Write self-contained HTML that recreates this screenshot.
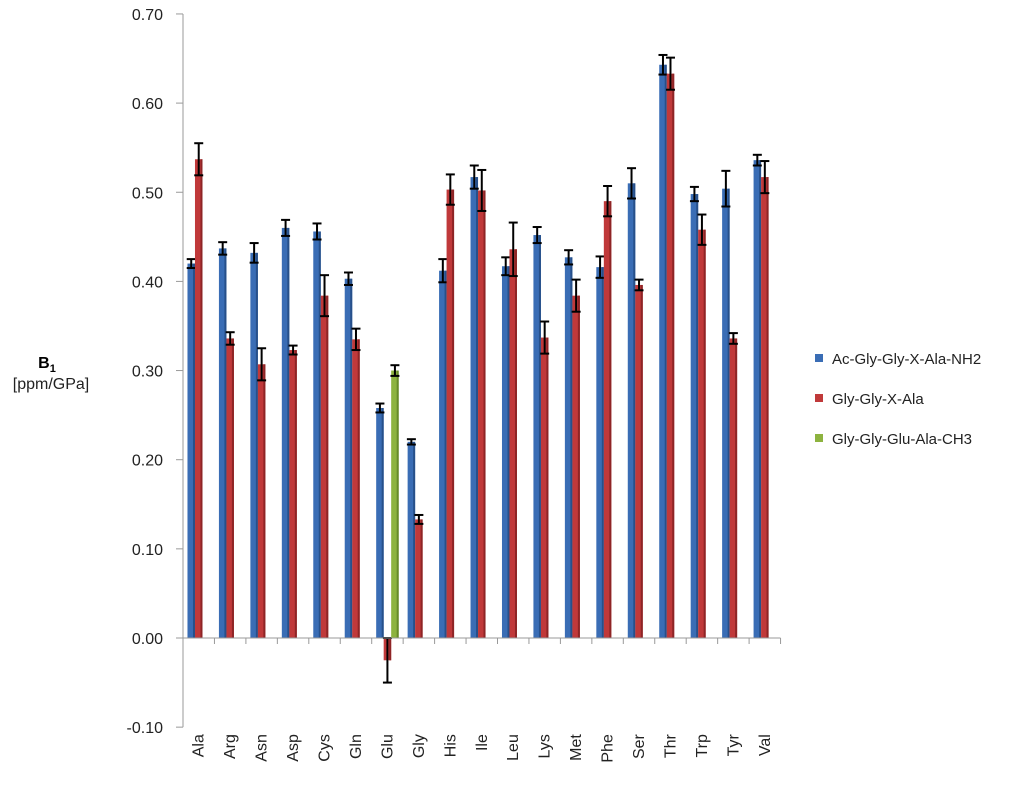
<!DOCTYPE html>
<html><head><meta charset="utf-8"><style>
html,body{margin:0;padding:0;background:#fff;width:1024px;height:790px;overflow:hidden}
svg{font-family:"Liberation Sans",sans-serif}
</style></head><body>
<svg id="chart" width="1024" height="790">
<g id="grid"></g>
<g id="bars"></g>
<g id="axes"></g>
<g>
<text x="47" y="368" font-size="16" font-weight="bold" text-anchor="middle">B<tspan font-size="11" dy="4">1</tspan></text>
<text x="51" y="389" font-size="16" text-anchor="middle" fill="#222">[ppm/GPa]</text>
</g>
<g>
<g><rect x="815" y="354" width="8" height="8" fill="#3a6db5"/><text x="832" y="364" font-size="15" fill="#222">Ac-Gly-Gly-X-Ala-NH2</text></g>
<g><rect x="815" y="394" width="8" height="8" fill="#c0393a"/><text x="832" y="404" font-size="15" fill="#222">Gly-Gly-X-Ala</text></g>
<g><rect x="815" y="434" width="8" height="8" fill="#8db33f"/><text x="832" y="444" font-size="15" fill="#222">Gly-Gly-Glu-Ala-CH3</text></g>
</g>
</svg>
<script>
const categories=["Ala","Arg","Asn","Asp","Cys","Gln","Glu","Gly","His","Ile","Leu","Lys","Met","Phe","Ser","Thr","Trp","Tyr","Val"];
const seriesA=[0.420,0.437,0.432,0.460,0.456,0.403,0.258,0.220,0.412,0.517,0.417,0.452,0.427,0.416,0.510,0.643,0.498,0.504,0.536];
const errA=[0.005,0.007,0.011,0.009,0.009,0.007,0.005,0.003,0.013,0.013,0.010,0.009,0.008,0.012,0.017,0.011,0.008,0.020,0.006];
const seriesB=[0.537,0.336,0.307,0.323,0.384,0.335,-0.025,0.133,0.503,0.502,0.436,0.337,0.384,0.490,0.396,0.633,0.458,0.336,0.517];
const errB=[0.018,0.007,0.018,0.005,0.023,0.012,0.025,0.005,0.017,0.023,0.030,0.018,0.018,0.017,0.006,0.018,0.017,0.006,0.018];
const seriesC=[null,null,null,null,null,null,0.300,null,null,null,null,null,null,null,null,null,null,null,null];
const errC=[0,0,0,0,0,0,0.006,0,0,0,0,0,0,0,0,0,0,0,0];
const yTicks=[-0.10,0.00,0.10,0.20,0.30,0.40,0.50,0.60,0.70];
const NS="http://www.w3.org/2000/svg";
const x0=183,cw=31.45,bw=7.5;
function y(v){return 638-(v/0.1)*89.15;}
function xc(i){return x0+cw*(i+0.5);}
function mk(tag,attrs,parent){const e=document.createElementNS(NS,tag);for(const k in attrs)e.setAttribute(k,attrs[k]);parent.appendChild(e);return e;}
const axes=document.getElementById('axes'),bars=document.getElementById('bars');
const yl=mk('line',{x1:x0,y1:y(0.70),x2:x0,y2:y(-0.10),stroke:'#999','stroke-width':1},axes);


yTicks.forEach(t=>{
  const tk=mk('line',{x1:x0-7,y1:y(t),x2:x0,y2:y(t),stroke:'#999'},axes);
  
  
  const tx=mk('text',{x:x0-20,y:y(t)+6,'font-size':16,'text-anchor':'end',fill:'#222'},axes);
  tx.textContent=t.toFixed(2);
  
  
});
const xl=mk('line',{x1:x0,y1:y(0),x2:x0+cw*categories.length,y2:y(0),stroke:'#999'},axes);


categories.forEach((c,i)=>{
  const tk=mk('line',{x1:x0+cw*(i+1),y1:y(0),x2:x0+cw*(i+1),y2:y(0)+6,stroke:'#999'},axes);
  
  
  const cx=xc(i);
  const tx=mk('text',{x:0,y:0,'font-size':16,'text-anchor':'end',fill:'#222',transform:`translate(${cx+5},${y(-0.10)+7}) rotate(-90)`},axes);
  tx.textContent=c;
  
  
});
const series=[{v:seriesA,e:errA,col:'#3a6db5',dk:'#27508a',n:'a'},{v:seriesB,e:errB,col:'#c0393a',dk:'#8e2526',n:'b'},{v:seriesC,e:errC,col:'#8db33f',dk:'#668a28',n:'c'}];
series.forEach((s,si)=>{
  s.v.forEach((v,i)=>{
    if(v===null)return;
    const bx=xc(i)-1.5*bw+si*bw;
    const top=Math.min(y(v),y(0)),h=Math.abs(y(v)-y(0));
    const r=mk('rect',{x:bx,y:top,width:bw,height:h,fill:s.col},bars);
    
    
    mk('rect',{x:bx+bw-2,y:top,width:2,height:h,fill:s.dk},bars);
    const ex=bx+bw/2,e=s.e[i];
    const g=mk('g',{stroke:'#000','stroke-width':2},bars);
    
    
    mk('line',{x1:ex,y1:y(v+e),x2:ex,y2:y(v-e)},g);
    mk('line',{x1:ex-4.5,y1:y(v+e),x2:ex+4.5,y2:y(v+e)},g);
    mk('line',{x1:ex-4.5,y1:y(v-e),x2:ex+4.5,y2:y(v-e)},g);
  });
});
</script>
</body></html>
